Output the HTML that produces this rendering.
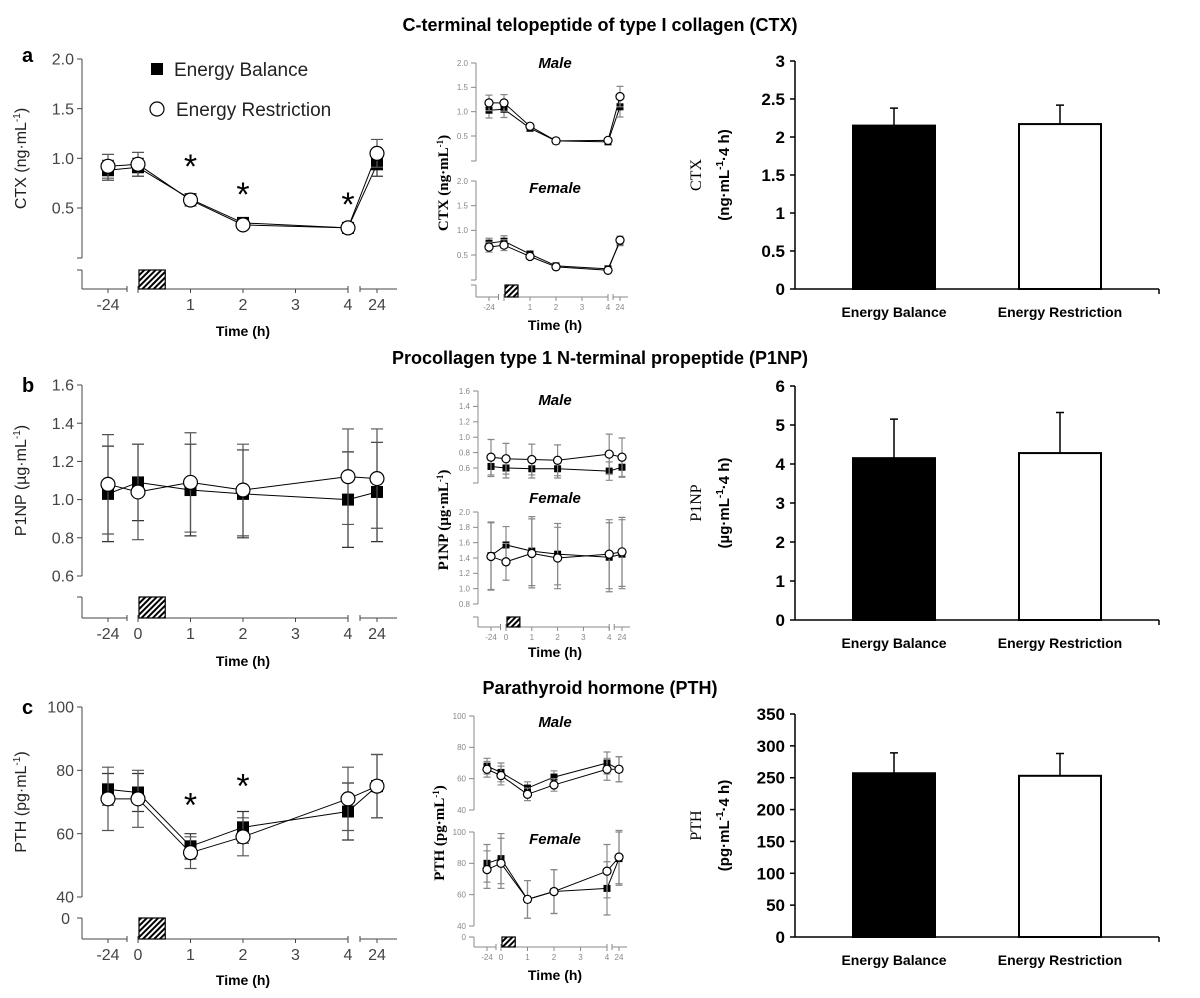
<!DOCTYPE html>
<html><head><meta charset="utf-8"><title>Bone markers</title>
<style>
body{margin:0;background:#fff;width:1200px;height:998px;overflow:hidden;font-family:"Liberation Sans",sans-serif}
svg{position:absolute;left:0;top:0}
</style></head>
<body>
<svg id="fig" width="1200" height="998" viewBox="0 0 1200 998" xmlns="http://www.w3.org/2000/svg">
<defs>
<pattern id="hatch" patternUnits="userSpaceOnUse" width="4" height="4" patternTransform="rotate(45)">
<rect width="4" height="4" fill="#fff"/><rect width="2" height="4" fill="#000"/>
</pattern>
</defs>
<text x="600" y="31" text-anchor="middle" font-size="18" font-weight="bold">C-terminal telopeptide of type I collagen (CTX)</text>
<text x="600" y="364" text-anchor="middle" font-size="18" font-weight="bold">Procollagen type 1 N-terminal propeptide (P1NP)</text>
<text x="600" y="694" text-anchor="middle" font-size="18" font-weight="bold">Parathyroid hormone (PTH)</text>
<text x="22" y="62" font-size="20" font-weight="bold">a</text>
<text x="22" y="392" font-size="20" font-weight="bold">b</text>
<text x="22" y="714" font-size="20" font-weight="bold">c</text>
<g>
<rect x="151" y="63" width="12" height="12" fill="#000"/>
<text x="174" y="76" font-size="19" fill="#222">Energy Balance</text>
<circle cx="157" cy="109" r="7" fill="#fff" stroke="#000" stroke-width="1.2"/>
<text x="176" y="116" font-size="19" fill="#222">Energy Restriction</text>
</g>
</svg>
<script>
// ---- data ----
const times=[-24,0,1,2,4,24];
const ctxEB=[0.88,0.91,0.59,0.35,0.30,0.94];
const ctxEBerr=[0.10,0.09,0.05,0.02,0.02,0.12];
const ctxER=[0.92,0.94,0.58,0.33,0.30,1.05];
const ctxERerr=[0.12,0.12,0.06,0.02,0.02,0.14];
const ctxMaleEB=[1.03,1.05,0.66,0.40,0.38,1.10];
const ctxMaleER=[1.18,1.18,0.70,0.40,0.41,1.31];
const ctxMaleErr=[0.16,0.17,0.06,0.02,0.03,0.21];
const ctxFemaleEB=[0.74,0.78,0.52,0.28,0.22,0.77];
const ctxFemaleER=[0.66,0.70,0.47,0.26,0.19,0.80];
const ctxFemaleErr=[0.10,0.11,0.04,0.03,0.03,0.08];
const p1npEB=[1.03,1.09,1.05,1.03,1.00,1.04];
const p1npEBerr=[0.25,0.20,0.24,0.23,0.25,0.26];
const p1npER=[1.08,1.04,1.09,1.05,1.12,1.11];
const p1npERerr=[0.26,0.25,0.26,0.24,0.25,0.26];
const p1npMaleEB=[0.62,0.60,0.59,0.59,0.56,0.61];
const p1npMaleEBerr=[0.13,0.13,0.12,0.12,0.12,0.13];
const p1npMaleER=[0.74,0.72,0.71,0.70,0.78,0.74];
const p1npMaleERerr=[0.23,0.20,0.20,0.20,0.26,0.25];
const p1npFemaleEB=[1.43,1.57,1.49,1.45,1.41,1.45];
const p1npFemaleER=[1.42,1.35,1.46,1.40,1.45,1.48];
const p1npFemaleErr=[0.44,0.24,0.45,0.40,0.45,0.45];
const pthEB=[74,73,56,62,67,75];
const pthEBerr=[5,6,4,5,9,10];
const pthER=[71,71,54,59,71,75];
const pthERerr=[10,9,5,6,10,10];
const pthMaleEB=[68,64,54,61,70,66];
const pthMaleER=[66,62,50,56,66,66];
const pthMaleErr=[5,6,4,4,7,8];
const pthFemaleEB=[80,83,57,62,64,83];
const pthFemaleER=[76,80,57,62,75,84];
const pthFemaleErr=[12,16,12,14,17,17];
const barCats=["Energy Balance","Energy Restriction"];
const ctxAUC=[2.15,2.17];
const ctxAUCerr=[0.23,0.25];
const p1npAUC=[4.15,4.28];
const p1npAUCerr=[1.0,1.04];
const pthAUC=[257,253];
const pthAUCerr=[32,35];
const ctxTicks=[0.5,1.0,1.5,2.0];
const p1npTicks=[0.6,0.8,1.0,1.2,1.4,1.6];
const p1npFemaleTicks=[0.8,1.0,1.2,1.4,1.6,1.8,2.0];
const pthTicks=[40,60,80,100];
const ctxBarTicks=[0,0.5,1,1.5,2,2.5,3];
const p1npBarTicks=[0,1,2,3,4,5,6];
const pthBarTicks=[0,50,100,150,200,250,300,350];
const timeLabels=["-24","0","1","2","3","4","24"];

// ---- helpers ----
const NS="http://www.w3.org/2000/svg";
const svg=document.getElementById('fig');
function mk(tag,parent,attrs){const e=document.createElementNS(NS,tag);for(const k in attrs)e.setAttribute(k,attrs[k]);(parent||svg).appendChild(e);return e;}
function lin(vA,yA,vB,yB){return v=>yA+(v-vA)*(yB-yA)/(vB-vA);}
function timeX(c){return t=>t<0?c.xNeg:(t>4?c.x24:c.x0+t*c.unit);}
function fmt(v,d){return d===0?String(v):v.toFixed(d);}

function yAxis(g,ax,y,ticks,dec,top,bottom,fs,col){
  const l=mk('line',g,{x1:ax,x2:ax,y1:y(top),y2:bottom,stroke:col,'stroke-width':1});
  
  
  ticks.forEach(v=>{
    mk('line',g,{x1:ax-5,x2:ax,y1:y(v),y2:y(v),stroke:col});
    const t=mk('text',g,{x:ax-8,y:y(v)+fs*0.35,'text-anchor':'end','font-size':fs,fill:col});
    t.textContent=fmt(v,dec);
    
    
  });
  mk('line',g,{x1:ax-5,x2:ax,y1:bottom,y2:bottom,stroke:col});
}
function xAxisBroken(g,c,ax,segTop,axY,fs,col,showZero,sm){
  const X=timeX(c);
  mk('line',g,{x1:ax,x2:ax,y1:segTop,y2:axY,stroke:col});
  mk('line',g,{x1:ax-5,x2:ax,y1:segTop,y2:segTop,stroke:col});
  const b1=(c.xNeg+c.x0)/2+ (sm?2:4), b2=c.x0, b3=X(4), b4=X(4)+(sm?5:12);
  mk('line',g,{x1:ax,x2:b1,y1:axY,y2:axY,stroke:col});
  mk('line',g,{x1:b2,x2:b3,y1:axY,y2:axY,stroke:col});
  mk('line',g,{x1:b4,x2:c.x24+(sm?8:20),y1:axY,y2:axY,stroke:col});
  [b1,b2,b3,b4].forEach(x=>mk('line',g,{x1:x,x2:x,y1:axY-3,y2:axY+3,stroke:col}));
  [-24,0,1,2,3,4,24].forEach((t,i)=>{
    mk('line',g,{x1:X(t),x2:X(t),y1:axY,y2:axY+4,stroke:col});
    if(t===0&&!showZero)return;
    const tx=mk('text',g,{x:X(t),y:axY+fs+5,'text-anchor':'middle','font-size':fs,fill:col});
    tx.textContent=timeLabels[i];
    
    
  });
  const h=mk('rect',g,{x:c.x0+1,y:segTop,width:c.unit/2,height:axY-segTop,fill:'url(#hatch)',stroke:'#000','stroke-width':1.2});
  
  
}
function series(g,c,y,vals,errs,kind,sz,name,col){
  const X=timeX(c);
  for(let i=0;i<vals.length-1;i++){
    const s=mk('line',g,{x1:X(times[i]),y1:y(vals[i]),x2:X(times[i+1]),y2:y(vals[i+1]),stroke:'#000','stroke-width':1});
    
    
  }
  vals.forEach((v,i)=>{
    const x=X(times[i]),e=errs[i],cw=sz*0.5;
    const eb=mk('path',g,{d:`M${x},${y(v+e)}V${y(v-e)}M${x-cw},${y(v+e)}H${x+cw}M${x-cw},${y(v-e)}H${x+cw}`,stroke:col,'stroke-width':1.2,fill:'none'});
    
    
  });
  vals.forEach((v,i)=>{
    const x=X(times[i]);let m;
    if(kind==='sq'){m=mk('rect',g,{x:x-sz/2,y:y(v)-sz/2,width:sz,height:sz,fill:'#000'});}
    else{m=mk('circle',g,{cx:x,cy:y(v),r:sz*0.58,fill:'#fff',stroke:'#000','stroke-width':1.2});}
    
    
  });
}
function label(g,txt,x,y,fs,extra,name){
  const t=mk('text',g,Object.assign({x:x,y:y,'font-size':fs,'text-anchor':'middle'},extra||{}));
  t.innerHTML=txt;
  
  
  return t;
}
function star(g,x,y){const t=label(g,'*',x,y,34,{},'significance-star');}

// ---- main line panels ----
function mainPanel(id,c,y,ticks,dec,top,bottom,segTop,axY,EB,EBe,ER,ERe,showZero,ylab,timeY,stars){
  const g=mk('g',svg,{});
  
  
  yAxis(g,82,y,ticks,dec,top,bottom,16,'#444');
  xAxisBroken(g,c,82,segTop,axY,16,'#444',showZero,false);
  series(g,c,y,EB,EBe,'sq',12,'energy-balance','#333');
  series(g,c,y,ER,ERe,'ci',12,'energy-restriction','#555');
  label(g,ylab,0,0,16,{transform:`translate(26,${(y(top)+bottom)/2}) rotate(-90)`,fill:'#222'},'y-axis-title');
  label(g,'Time (h)',243,timeY,14,{'font-weight':'bold'},'x-axis-title');
  const X=timeX(c);
  stars.forEach(s=>star(g,X(s[0]),y(s[1])+2));
}
const cMain={xNeg:108,x0:138,unit:52.5,x24:377};
mainPanel('ctx-time-course',cMain,lin(2.0,59,0.5,208),ctxTicks,1,2.0,258,270,289,ctxEB,ctxEBerr,ctxER,ctxERerr,false,'CTX (ng·mL<tspan font-size="10" dy="-6">-1</tspan><tspan dy="6">)</tspan>',336,[[1,0.82],[2,0.54],[4,0.44]]);
mainPanel('p1np-time-course',cMain,lin(1.6,385,0.6,576),p1npTicks,1,1.6,576,597,618,p1npEB,p1npEBerr,p1npER,p1npERerr,true,'P1NP (µg·mL<tspan font-size="10" dy="-6">-1</tspan><tspan dy="6">)</tspan>',666,[]);
mainPanel('pth-time-course',cMain,lin(100,707,40,897),pthTicks,0,100,897,918,939,pthEB,pthEBerr,pthER,pthERerr,true,'PTH (pg·mL<tspan font-size="10" dy="-6">-1</tspan><tspan dy="6">)</tspan>',985,[[1,66],[2,72]]);
label(svg,'0',70,924,16,{'text-anchor':'end',fill:'#444'},'y-tick-label');

// ---- sex-split small panels ----
function subPlot(g,c,ax,y,ticks,dec,top,bottom,EB,EBe,ER,ERe,title,ty){
  yAxis(g,ax,y,ticks,dec,top,bottom,8,'#888');
  series(g,c,y,EB,EBe,'sq',7,'energy-balance','#888');
  series(g,c,y,ER,ERe,'ci',7,'energy-restriction','#888');
  label(g,title,555,ty,15,{'font-weight':'bold','font-style':'italic'},'sex-label');
}
function midPanel(id,c,ax,m,f,segTop,axY,ylab,ylx,yly,timeY){
  const g=mk('g',svg,{});
  
  
  subPlot(g,c,ax,...m);
  subPlot(g,c,ax,...f);
  xAxisBroken(g,c,ax,segTop,axY,8,'#888',id!=='ctx-by-sex',true);
  label(g,ylab,0,0,15,{transform:`translate(${ylx},${yly}) rotate(-90)`,'font-family':'Liberation Serif, serif','font-weight':'bold'},'y-axis-title');
  label(g,'Time (h)',555,timeY,14,{'font-weight':'bold'},'x-axis-title');
}
midPanel('ctx-by-sex',{xNeg:489,x0:504,unit:26,x24:620},476,
  [lin(2.0,63,0.5,136),ctxTicks,1,2.0,161,ctxMaleEB,ctxMaleErr,ctxMaleER,ctxMaleErr,'Male',68],
  [lin(2.0,181,0.5,255),ctxTicks,1,2.0,280,ctxFemaleEB,ctxFemaleErr,ctxFemaleER,ctxFemaleErr,'Female',193],
  285,297,'CTX (ng·mL<tspan font-size="9" dy="-5">-1</tspan><tspan dy="5">)</tspan>',448,183,330);
midPanel('p1np-by-sex',{xNeg:491,x0:506,unit:25.8,x24:622},478,
  [lin(1.6,391,0.6,468),p1npTicks,1,1.6,483,p1npMaleEB,p1npMaleEBerr,p1npMaleER,p1npMaleERerr,'Male',405],
  [lin(2.0,512,0.8,604),p1npFemaleTicks,1,2.0,604,p1npFemaleEB,p1npFemaleErr,p1npFemaleER,p1npFemaleErr,'Female',503],
  617,627,'P1NP (µg·mL<tspan font-size="9" dy="-5">-1</tspan><tspan dy="5">)</tspan>',448,520,657);
midPanel('pth-by-sex',{xNeg:487,x0:501,unit:26.5,x24:619},474,
  [lin(100,716,40,810),pthTicks,0,100,810,pthMaleEB,pthMaleErr,pthMaleER,pthMaleErr,'Male',727],
  [lin(100,832,40,926),pthTicks,0,100,926,pthFemaleEB,pthFemaleErr,pthFemaleER,pthFemaleErr,'Female',844],
  937,947,'PTH (pg·mL<tspan font-size="9" dy="-5">-1</tspan><tspan dy="5">)</tspan>',444,833,980);
label(svg,'0',466,940,8,{'text-anchor':'end',fill:'#888'},'y-tick-label');

// ---- AUC bar charts ----
function barPanel(id,vals,errs,ticks,top,yTop,yBot,yl1,yl2){
  const g=mk('g',svg,{});
  
  
  const y=lin(0,yBot,top,yTop),ax=795;
  mk('line',g,{x1:ax,x2:ax,y1:yTop,y2:yBot,stroke:'#000','stroke-width':1.5});
  mk('line',g,{x1:ax,x2:1159,y1:yBot,y2:yBot,stroke:'#000','stroke-width':1.5});
  mk('line',g,{x1:1159,x2:1159,y1:yBot,y2:yBot+5,stroke:'#000','stroke-width':1.5});
  ticks.forEach(v=>{
    mk('line',g,{x1:ax-5,x2:ax,y1:y(v),y2:y(v),stroke:'#000','stroke-width':1.5});
    const t=mk('text',g,{x:ax-10,y:y(v)+6,'text-anchor':'end','font-size':17,'font-weight':'bold'});
    t.textContent=String(v);
    
    
  });
  vals.forEach((v,i)=>{
    const cx=894+i*166;
    const eb=mk('path',g,{d:`M${cx},${y(v)}V${y(v+errs[i])}M${cx-4},${y(v+errs[i])}H${cx+4}`,stroke:'#000','stroke-width':1.5,fill:'none'});
    
    
    const r=mk('rect',g,{x:cx-41,y:y(v),width:82,height:yBot-y(v),fill:i===0?'#000':'#fff',stroke:'#000','stroke-width':2});
    
    
    const t=mk('text',g,{x:cx,y:yBot+28,'text-anchor':'middle','font-size':14,'font-weight':'bold'});
    t.textContent=barCats[i];
    
    
  });
  const mid=(yTop+yBot)/2;
  label(g,yl1,0,0,16,{transform:`translate(701,${mid}) rotate(-90)`,'font-family':'Liberation Serif, serif'},'y-axis-title');
  label(g,yl2,0,0,15,{transform:`translate(729,${mid}) rotate(-90)`,'font-weight':'bold'},'y-axis-unit');
}
barPanel('ctx-auc-bar',ctxAUC,ctxAUCerr,ctxBarTicks,3,61,289,'CTX','(ng·mL<tspan font-size="10" dy="-6">-1</tspan><tspan dy="6">·4 h)</tspan>');
barPanel('p1np-auc-bar',p1npAUC,p1npAUCerr,p1npBarTicks,6,386,620,'P1NP','(µg·mL<tspan font-size="10" dy="-6">-1</tspan><tspan dy="6">·4 h)</tspan>');
barPanel('pth-auc-bar',pthAUC,pthAUCerr,pthBarTicks,350,714,937,'PTH','(pg·mL<tspan font-size="10" dy="-6">-1</tspan><tspan dy="6">·4 h)</tspan>');
</script>
</body></html>
